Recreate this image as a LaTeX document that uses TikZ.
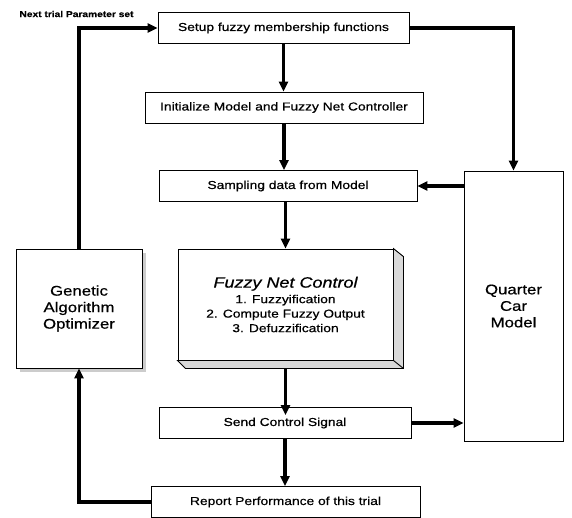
\documentclass[tikz,border=0pt]{standalone}
\usepackage{fontspec}
\setmainfont[FakeStretch=1.2, FakeBold=0.6]{Liberation Sans}
\usetikzlibrary{arrows.meta,shadows}

\begin{document}
\begin{tikzpicture}[x=1pt, y=-1pt,
  every node/.style={font=\fontsize{11.5}{14.5}\selectfont},
  stepbox/.style={draw, shape=rectangle, line width=0.9pt, minimum height=31pt, inner sep=0pt},
  bigbox/.style={draw, shape=rectangle, line width=0.9pt, align=center, inner sep=0pt,
    font=\fontsize{14}{16.5}\selectfont},
  flow/.style={-{Triangle[length=10pt,width=9pt]}, line width=3.2pt}]
\useasboundingbox (0,0) rectangle (572,518);
\node (nextlbl) [font=\fontsize{8.5}{10}\selectfont\bfseries] at (76.5,14) {Next trial Parameter set};
\node (setup) [stepbox, minimum width=251pt] at (283.5,28) {Setup fuzzy membership functions};
\node (init) [stepbox, minimum width=278pt] at (284,107.5) {Initialize Model and Fuzzy Net Controller};
\node (samp) [stepbox, minimum width=258pt] at (288,186) {Sampling data from Model};
\node (fnc) [draw, shape=rectangle, line width=0.9pt, fill=white, minimum width=215pt,
  minimum height=111pt, align=center, inner sep=0pt] at (285.5,304.5)
  {{\fontsize{15}{18}\selectfont\itshape Fuzzy Net Control}\\[1pt]
   1. Fuzzyification\\ 2. Compute Fuzzy Output\\ 3. Defuzzification};
\draw[line width=0.9pt, fill=gray!30] (fnc.north east) -- ([shift={(10,8)}]fnc.north east)
  -- ([shift={(10,8)}]fnc.south east) -- ([shift={(8,8)}]fnc.south west)
  -- (fnc.south west) -- (fnc.south east) -- cycle;
\draw[line width=0.9pt] (fnc.south east) -- ([shift={(10,8)}]fnc.south east);
\node (ga) [bigbox, fill=white, minimum width=126pt, minimum height=119pt,
  drop shadow={shadow xshift=4pt, shadow yshift=-4pt, fill=gray!40, opacity=1}]
  at (79,308.5) {Genetic\\Algorithm\\Optimizer};
\node (qc) [bigbox, minimum width=99pt, minimum height=270pt] at (513.5,306) {Quarter\\Car\\Model};
\node (send) [stepbox, minimum width=252pt] at (285,423) {Send Control Signal};
\node (report) [stepbox, minimum width=269pt] at (285.5,502) {Report Performance of this trial};
% connectors
\draw[flow] (ga.north) |- (setup.west);
\draw[flow] (setup.south) -- (setup.south |- init.north);
\draw[flow] (init.south) -- (init.south |- samp.north);
\draw[flow] (setup.east) -| (qc.north);
\draw[flow] (samp.east -| qc.west) -- (samp.east);
\draw[flow] (fnc.north |- samp.south) -- (fnc.north);
\draw[flow] ([yshift=-8pt]fnc.south) -- ([yshift=-8pt]fnc.south |- send.north);
\draw[flow] (send.east) -- (send.east -| qc.west);
\draw[flow] (send.south) -- (send.south |- report.north);
\draw[flow] (report.west) -| (ga.south);
\end{tikzpicture}
\end{document}
